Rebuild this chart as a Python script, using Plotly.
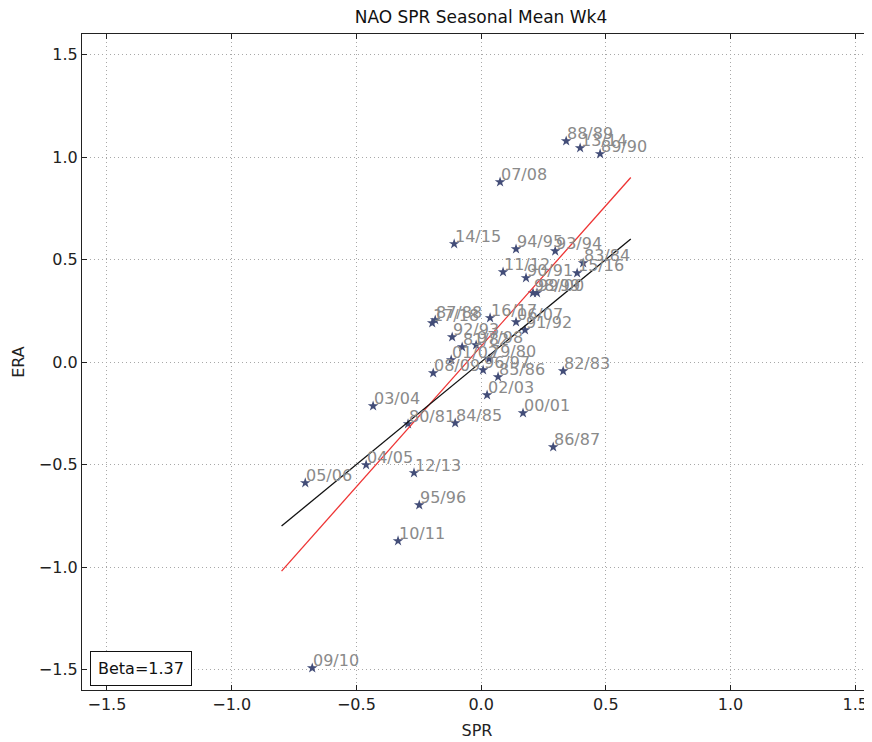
import plotly.graph_objects as go

# ---- data ----
labels = ["88/89", "13/14", "89/90", "07/08", "14/15", "94/95", "93/94", "83/84",
          "15/16", "11/12", "90/91", "98/99", "99/00", "17/18", "87/88", "16/17",
          "06/07", "91/92", "92/93", "81/82", "97/98", "01/02", "79/80", "96/97",
          "85/86", "08/09", "82/83", "02/03", "00/01", "86/87", "03/04", "80/81",
          "84/85", "04/05", "12/13", "05/06", "95/96", "10/11", "09/10"]
spr = [0.341, 0.397, 0.477, 0.076, -0.108, 0.140, 0.297, 0.409,
       0.385, 0.088, 0.180, 0.208, 0.224, -0.196, -0.184, 0.036,
       0.140, 0.176, -0.116, -0.076, -0.020, -0.120, 0.032, 0.008,
       0.068, -0.192, 0.329, 0.024, 0.168, 0.289, -0.433, -0.293,
       -0.104, -0.461, -0.269, -0.705, -0.248, -0.333, -0.677]
era = [1.078, 1.044, 1.015, 0.878, 0.576, 0.551, 0.541, 0.483,
       0.434, 0.439, 0.410, 0.337, 0.337, 0.190, 0.205, 0.215,
       0.195, 0.156, 0.122, 0.073, 0.083, 0.010, 0.015, -0.039,
       -0.073, -0.054, -0.044, -0.161, -0.249, -0.415, -0.215, -0.302,
       -0.298, -0.502, -0.541, -0.590, -0.698, -0.873, -1.493]

line_x = [-0.8, 0.6]
fit_y = [-1.02, 0.90]      # regression line (Beta=1.37)
one_y = [-0.8, 0.6]        # 1:1 line
beta_text = "Beta=1.37"
ticks = [-1.5, -1.0, -0.5, 0.0, 0.5, 1.0, 1.5]

FONT = "DejaVu Sans"

fig = go.Figure()
fig.add_trace(go.Scatter(x=spr, y=era, mode="markers",
                         marker=dict(symbol="star", size=8, color="#434d78",
                                     line=dict(width=0)),
                         hoverinfo="skip", showlegend=False))
fig.add_trace(go.Scatter(x=line_x, y=fit_y, mode="lines",
                         line=dict(color="#ee3333", width=1.3), showlegend=False))
fig.add_trace(go.Scatter(x=line_x, y=one_y, mode="lines",
                         line=dict(color="#111111", width=1.3), showlegend=False))

for lab, xv, yv in zip(labels, spr, era):
    fig.add_annotation(x=xv, y=yv, text=lab, showarrow=False,
                       xanchor="left", yanchor="bottom", xshift=-1, yshift=-4,
                       font=dict(family=FONT, size=16, color="#8a8a8a"))

fig.add_annotation(xref="paper", yref="paper", x=0.01, y=0.006,
                   xanchor="left", yanchor="bottom", text=beta_text, showarrow=False,
                   font=dict(family=FONT, size=16, color="#111111"),
                   bordercolor="#111111", borderwidth=1, borderpad=7, bgcolor="white")

axis_common = dict(tickvals=ticks, ticktext=[f"{t:.1f}".replace("-", "\u2212") for t in ticks],
                   showgrid=True, gridcolor="#a8a8a8", gridwidth=1, griddash="1px,3px",
                   zeroline=False, showline=True, linecolor="#222222", linewidth=1.2,
                   mirror="ticks", ticks="inside", ticklen=5, tickcolor="#222222",
                   tickfont=dict(family=FONT, size=16, color="#222222"))

fig.update_xaxes(range=[-1.6, 1.567], title=dict(text="SPR", font=dict(family=FONT, size=16, color="#222222"), standoff=11),
                 **axis_common)
fig.update_yaxes(range=[-1.6, 1.6], title=dict(text="ERA", font=dict(family=FONT, size=16, color="#222222"), standoff=10),
                 **axis_common)

# page body has an 8px margin, so the figure is sized/offset to match the reference frame
fig.update_layout(width=864, height=734,
                  margin=dict(l=74, r=0, t=26, b=52),
                  paper_bgcolor="white", plot_bgcolor="white",
                  title=dict(text="NAO SPR Seasonal Mean Wk4", x=473/864, xref="container",
                             xanchor="center", y=1 - 9/734, yanchor="middle",
                             font=dict(family=FONT, size=17, color="#111111")))

fig.write_html("out.html")
